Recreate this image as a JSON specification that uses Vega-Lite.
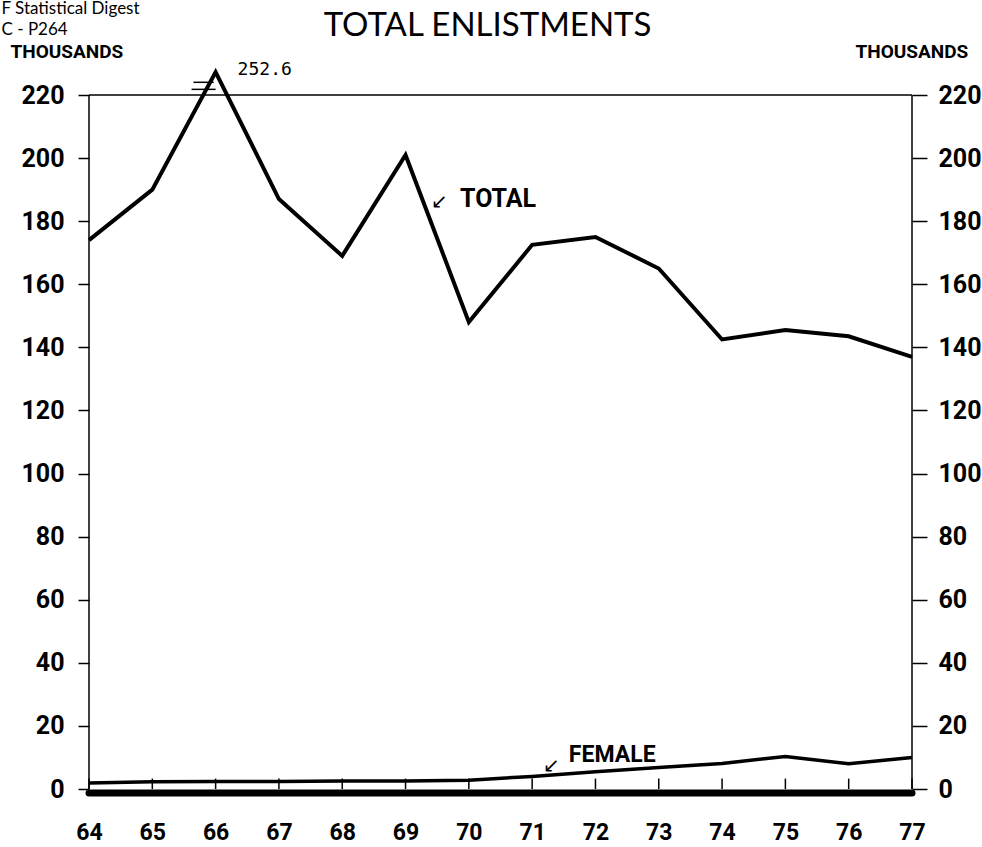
{
  "$schema": "https://vega.github.io/schema/vega-lite/v6.json",
  "width": 823,
  "height": 717,
  "autosize": "none",
  "padding": {"left": 89, "top": 72, "right": 70, "bottom": 58},
  "background": "white",
  "config": {
    "view": {"stroke": null},
    "axis": {"grid": false, "domain": false, "labelColor": "black", "tickColor": "black", "titleColor": "black"}
  },
  "title": {
    "text": "TOTAL ENLISTMENTS",
    "anchor": "middle",
    "frame": "group",
    "font": "Lato",
    "fontSize": 33,
    "fontWeight": "normal",
    "color": "black",
    "baseline": "alphabetic",
    "offset": 34,
    "dx": -13,
    "dy": 104
  },
  "data": {
    "values": [
      {"year": 64, "total": 174, "female": 1.9},
      {"year": 65, "total": 190, "female": 2.3},
      {"year": 66, "total": 252.6, "female": 2.4},
      {"year": 67, "total": 187, "female": 2.4},
      {"year": 68, "total": 169, "female": 2.5},
      {"year": 69, "total": 201, "female": 2.5},
      {"year": 70, "total": 148, "female": 2.8},
      {"year": 71, "total": 172.5, "female": 4.0},
      {"year": 72, "total": 175, "female": 5.5},
      {"year": 73, "total": 165, "female": 6.8},
      {"year": 74, "total": 142.5, "female": 8.1},
      {"year": 75, "total": 145.5, "female": 10.3},
      {"year": 76, "total": 143.5, "female": 8.0},
      {"year": 77, "total": 137, "female": 10}
    ]
  },
  "layer": [
    {
      "mark": {"type": "line", "color": "black", "strokeWidth": 4, "strokeJoin": "miter"},
      "encoding": {
        "x": {
          "field": "year", "type": "quantitative",
          "scale": {"domain": [64, 77], "nice": false, "zero": false},
          "axis": {
            "orient": "bottom", "values": [64, 65, 66, 67, 68, 69, 70, 71, 72, 73, 74, 75, 76, 77],
            "format": "d", "ticks": false, "tickSize": 0, "labelPadding": 32, "labelFlush": false, "labelOverlap": false,
            "labelFont": "Roboto", "labelFontSize": 23, "labelFontWeight": "bold",
            "title": null
          }
        },
        "y": {
          "field": "total", "type": "quantitative",
          "scale": {"type": "linear", "domain": [0, 220, 252.6], "range": [717, 23, 0], "nice": false, "zero": false},
          "axis": {
            "orient": "left", "values": [0, 20, 40, 60, 80, 100, 120, 140, 160, 180, 200, 220],
            "tickSize": 11, "tickWidth": 1.5, "labelPadding": 14, "labelOverlap": false,
            "labelFont": "Roboto", "labelFontSize": 25, "labelFontWeight": "bold",
            "title": "THOUSANDS", "titleAngle": 0, "titleX": -79, "titleY": -15, "titleAlign": "left", "titleBaseline": "alphabetic",
            "titleFont": "Roboto", "titleFontSize": 19, "titleFontWeight": "bold"
          }
        }
      }
    },
    {
      "mark": {"type": "line", "color": "black", "strokeWidth": 3.5},
      "encoding": {
        "x": {"field": "year", "type": "quantitative", "axis": null},
        "y": {
          "field": "female", "type": "quantitative",
          "axis": {
            "orient": "right", "values": [0, 20, 40, 60, 80, 100, 120, 140, 160, 180, 200, 220],
            "tickSize": 15, "tickWidth": 1.5, "labelPadding": 11, "labelOverlap": false,
            "labelFont": "Roboto", "labelFontSize": 25, "labelFontWeight": "bold",
            "title": "THOUSANDS", "titleAngle": 0, "titleX": -57, "titleY": -15, "titleAlign": "left", "titleBaseline": "alphabetic",
            "titleFont": "Roboto", "titleFontSize": 19, "titleFontWeight": "bold"
          }
        }
      }
    },
    {
      "mark": {"type": "rule", "color": "black", "strokeWidth": 1.5},
      "encoding": {
        "x": {"field": "year", "type": "quantitative", "axis": null},
        "y": {"datum": 0, "type": "quantitative", "axis": null},
        "y2": {"datum": 3.3}
      }
    },
    {
      "data": {"values": [{}]},
      "mark": {"type": "rule", "color": "black", "strokeWidth": 1.5},
      "encoding": {
        "x": {
          "datum": 64, "type": "quantitative",
          "axis": {
            "orient": "top", "labels": false, "ticks": false, "domain": false,
            "title": ["F Statistical Digest", "C - P264"], "titleX": -88, "titleY": -59, "titleAlign": "left", "titleBaseline": "alphabetic",
            "titleAnchor": "start", "titleFont": "Lato", "titleFontSize": 17, "titleFontWeight": "normal", "titleLineHeight": 21
          }
        },
        "y": {"datum": 0, "type": "quantitative", "axis": null},
        "y2": {"datum": 220}
      }
    },
    {
      "data": {"values": [{}]},
      "mark": {"type": "rule", "color": "black", "strokeWidth": 1.5},
      "encoding": {
        "x": {"datum": 77, "type": "quantitative", "axis": null},
        "y": {"datum": 0, "type": "quantitative", "axis": null},
        "y2": {"datum": 220}
      }
    },
    {
      "data": {"values": [{}]},
      "mark": {"type": "rule", "color": "black", "strokeWidth": 1.5},
      "encoding": {
        "x": {"datum": 64, "type": "quantitative", "axis": null},
        "x2": {"datum": 77},
        "y": {"datum": 220, "type": "quantitative", "axis": null}
      }
    },
    {
      "data": {"values": [{}]},
      "mark": {"type": "rule", "color": "black", "strokeWidth": 7, "strokeCap": "round", "yOffset": 4},
      "encoding": {
        "x": {"datum": 64, "type": "quantitative", "axis": null},
        "x2": {"datum": 77},
        "y": {"datum": 0, "type": "quantitative", "axis": null}
      }
    },
    {
      "data": {"values": [{}]},
      "mark": {"type": "rule", "color": "black", "strokeWidth": 1.5},
      "encoding": {
        "x": {"datum": 65.65, "type": "quantitative", "axis": null},
        "x2": {"datum": 65.97},
        "y": {"datum": 238, "type": "quantitative", "axis": null}
      }
    },
    {
      "data": {"values": [{}]},
      "mark": {"type": "rule", "color": "black", "strokeWidth": 1.5},
      "encoding": {
        "x": {"datum": 65.62, "type": "quantitative", "axis": null},
        "x2": {"datum": 66.0},
        "y": {"datum": 228, "type": "quantitative", "axis": null}
      }
    },
    {
      "transform": [{"filter": "datum.year == 66"}],
      "mark": {"type": "text", "align": "left", "baseline": "alphabetic", "dx": 22, "dy": 3, "font": "DejaVu Sans Mono", "fontSize": 18, "color": "black"},
      "encoding": {
        "x": {"field": "year", "type": "quantitative", "axis": null},
        "y": {"field": "total", "type": "quantitative", "axis": null},
        "text": {"field": "total", "type": "quantitative", "format": ".1f"}
      }
    },
    {
      "data": {"values": [{}]},
      "mark": {"type": "text", "align": "left", "baseline": "alphabetic", "font": "Roboto", "fontSize": 25, "fontWeight": "bold", "color": "black", "text": "TOTAL"},
      "encoding": {
        "x": {"datum": 69.86, "type": "quantitative", "axis": null},
        "y": {"datum": 184.5, "type": "quantitative", "axis": null}
      }
    },
    {
      "data": {"values": [{}]},
      "mark": {"type": "text", "align": "center", "baseline": "middle", "font": "DejaVu Sans", "fontSize": 20, "color": "black", "text": "↙"},
      "encoding": {
        "x": {"datum": 69.53, "type": "quantitative", "axis": null},
        "y": {"datum": 186.1, "type": "quantitative", "axis": null}
      }
    },
    {
      "data": {"values": [{}]},
      "mark": {"type": "text", "align": "left", "baseline": "alphabetic", "font": "Roboto", "fontSize": 23, "fontWeight": "bold", "color": "black", "text": "FEMALE"},
      "encoding": {
        "x": {"datum": 71.58, "type": "quantitative", "axis": null},
        "y": {"datum": 8.6, "type": "quantitative", "axis": null}
      }
    },
    {
      "data": {"values": [{}]},
      "mark": {"type": "text", "align": "center", "baseline": "middle", "font": "DejaVu Sans", "fontSize": 20, "color": "black", "text": "↙"},
      "encoding": {
        "x": {"datum": 71.3, "type": "quantitative", "axis": null},
        "y": {"datum": 7.3, "type": "quantitative", "axis": null}
      }
    }
  ],
  "resolve": {"axis": {"x": "independent", "y": "independent"}}
}
